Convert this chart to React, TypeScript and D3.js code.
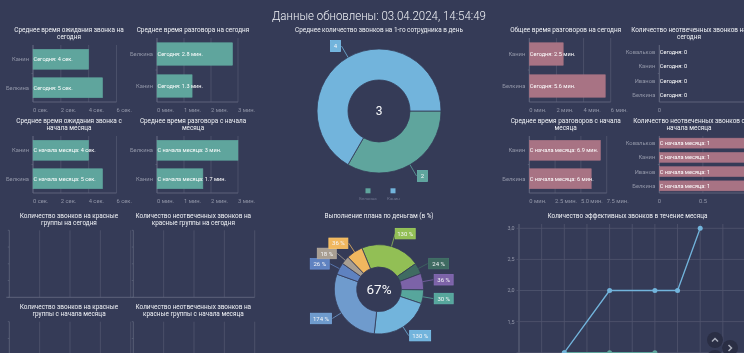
import React from "react";
import * as d3 from "d3";

const BG = "#353b57";
const GREEN = "#5fa59d";
const ROSE = "#a87384";
const BLUE = "#72b4dc";

const headerText = "Данные обновлены: 03.04.2024, 14:54:49";

const waitCats = ["Канин", "Белкина"];
const waitToday = [4, 5];
const waitMonth = [4, 5];
const talkCats = ["Белкина", "Канин"];
const talkToday = [2.8, 1.3];
const talkMonth = [3, 1.7];
const totalCats = ["Канин", "Белкина"];
const totalToday = [2.5, 5.6];
const totalMonth = [6.9, 6];
const missCats = ["Ковальков", "Канин", "Иванов", "Белкина"];
const missToday = [0, 0, 0, 0];
const missMonth = [1, 1, 1, 1];

const donutNames = ["Белкина", "Канин"];
const donutValues = [2, 4];
const donutCenter = "3";

const planValues = [130, 24, 36, 30, 130, 174, 26, 18, 36];
const planColors = ["#92bf55", "#3f6b62", "#7c63a8", "#57a69c", "#72b4dc", "#6f9bcd", "#5f82c0", "#a89e92", "#f0b75f"];
const planCenter = "67%";

const lineDays = [0, 1, 2, 3, 4, 5, 6, 7, 8, 9, 10];
const lineBlue: [number, number][] = [[2, 1], [4, 2], [6, 2], [7, 2], [8, 3]];
const lineGreen: [number, number][] = [[2, 1], [4, 1], [6, 1]];
const lineTicks = [1, 1.5, 2, 2.5, 3];

const FONT = "Roboto, 'Noto Sans', sans-serif";
const GRID = "#50566f";
const AXIS = "#62687f";
const LABEL = "#9296a8";

function Title({ x, y, lines, size = 6.4 }: { x: number; y: number; lines: string[]; size?: number }) {
  return (
    <text x={x} y={y} textAnchor="middle" fontSize={size} fill="#f0f2f6" fontFamily={FONT}>
      {lines.map((l, i) => (
        <tspan key={i} x={x} dy={i === 0 ? 0 : 6.9}>{l}</tspan>
      ))}
    </text>
  );
}

function HBar(props: {
  title: string[]; titleX: number; titleY: number;
  x0: number; x1: number; top: number; bottom: number;
  cats: string[]; values: number[]; domainMax: number; ticks: number[]; tickFmt: (t: number) => string;
  color: string; prefix: string; unit: string; barH: number; tickAnchor?: string;
}) {
  const { x0, x1, top, bottom, cats, values, color, prefix, unit, barH } = props;
  const x = d3.scaleLinear().domain([0, props.domainMax]).range([x0, x1]);
  const y = d3.scaleBand().domain(cats).range([top, bottom]);
  return (
    <g>
      <Title x={props.titleX} y={props.titleY} lines={props.title} />
      {props.ticks.map((t) => (
        <g key={t}>
          <line x1={x(t)} x2={x(t)} y1={top} y2={bottom} stroke={GRID} strokeWidth={0.8} />
          <text x={x(t)} y={bottom + 9.5} textAnchor={props.tickAnchor ?? "start"} fontSize={5.8} fill={LABEL} fontFamily={FONT}>{props.tickFmt(t)}</text>
        </g>
      ))}
      <line x1={x0} x2={x0} y1={top} y2={bottom} stroke={AXIS} strokeWidth={0.9} />
      <line x1={x0} x2={x(props.ticks[props.ticks.length - 1])} y1={bottom} y2={bottom} stroke={AXIS} strokeWidth={0.9} />
      <line x1={x0 - 1.5} x2={x0} y1={(top + bottom) / 2} y2={(top + bottom) / 2} stroke={AXIS} strokeWidth={0.7} />
      {cats.map((c, i) => {
        const cy = (y(c) as number) + y.bandwidth() / 2;
        return (
          <g key={c}>
            <text x={x0 - 4} y={cy + 2} textAnchor="end" fontSize={5.8} fill={LABEL} fontFamily={FONT}>{c}</text>
            <rect x={x0} y={cy - barH / 2} width={x(values[i]) - x0} height={barH} fill={color} stroke={color} strokeWidth={0.5} />
            <text x={x0 + 0.5} y={cy + 2.1} fontSize={5.6} fill="#ffffff" fontFamily={FONT}>{`${prefix}: ${values[i]}${unit}`}</text>
          </g>
        );
      })}
    </g>
  );
}

function EmptyPanel({ title, titleX, titleY, x0, x1, top, bottom }: { title: string[]; titleX: number; titleY: number; x0: number; x1: number; top: number; bottom: number }) {
  const x = d3.scaleLinear().domain([0, 4]).range([x0, x1]);
  const y = d3.scaleLinear().domain([0, 4]).range([top, top + 67]);
  return (
    <g>
      <Title x={titleX} y={titleY} lines={title} />
      {d3.range(0, 5).map((t) => (
        <line key={t} x1={x(t)} x2={x(t)} y1={top} y2={bottom} stroke={t === 0 ? AXIS : GRID} strokeWidth={0.8} />
      ))}
      {d3.range(0, 5).map((t) => (
        <line key={t} x1={x0 - 1.5} x2={x0} y1={y(t)} y2={y(t)} stroke={AXIS} strokeWidth={0.7} />
      ))}
      {bottom < 340 && <line x1={x0 - 3} x2={x1} y1={bottom} y2={bottom} stroke={AXIS} strokeWidth={0.9} />}
    </g>
  );
}

function Donut({ cx, cy, r0, r1, values, colors, start, center, centerSize, labelR, text, boxW, boxH, shift }: any) {
  const pie = d3.pie<number>().sort(null).startAngle(start).endAngle(start + Math.PI * 2);
  const arc = d3.arc<d3.PieArcDatum<number>>().innerRadius(r0).outerRadius(r1);
  const arcs = pie(values);
  return (
    <g transform={`translate(${cx},${cy})`}>
      {arcs.map((a, i) => (
        <path key={i} d={arc(a) as string} fill={colors[i]} stroke={BG} strokeWidth={0.8} />
      ))}
      {arcs.map((a, i) => {
        const m = (a.startAngle + a.endAngle) / 2;
        const s = Math.sin(m), c = Math.cos(m);
        const R = labelR[i];
        const ex = s * R, ey = -c * R;
        const dir = s >= 0 ? 1 : -1;
        const w = boxW[i];
        const bx = ex + dir * (w / 2 + 1) + (shift ? shift[i] : 0);
        return (
          <g key={i}>
            <polyline points={`${s * r1},${-c * r1} ${ex},${ey}`} fill="none" stroke={colors[i]} strokeWidth={0.8} />
            <rect x={bx - w / 2} y={ey - boxH / 2} width={w} height={boxH} fill={colors[i]} stroke={d3.color(colors[i])!.brighter(0.25).toString()} strokeWidth={0.8} />
            <text x={bx} y={ey + 2.1} textAnchor="middle" fontSize={6} fill="#f4f5f8" fontFamily={FONT}>{text(values[i])}</text>
          </g>
        );
      })}
      <text x={0} y={centerSize * 0.36} textAnchor="middle" fontSize={centerSize} fill="#f8f9fb" fontFamily={FONT}>{center}</text>
    </g>
  );
}

function LineChart() {
  const x = d3.scaleLinear().domain([0, 10]).range([519, 745.5]);
  const y = d3.scaleLinear().domain([1, 3]).range([352.7, 228.3]);
  const line = d3.line<[number, number]>().x((d) => x(d[0])).y((d) => y(d[1]));
  return (
    <g>
      <Title x={627.5} y={218} lines={["Количество эффективных звонков в течение месяца"]} size={6.4} />
      {lineDays.map((d) => (
        <line key={d} x1={x(d)} x2={x(d)} y1={224} y2={353} stroke={d === 0 ? AXIS : GRID} strokeWidth={d === 0 ? 1 : 0.8} />
      ))}
      {lineTicks.map((t) => (
        <g key={t}>
          <line x1={516.5} x2={744} y1={y(t)} y2={y(t)} stroke={GRID} strokeWidth={0.8} />
          {t > 1 && <text x={514.5} y={y(t) + 1.9} textAnchor="end" fontSize={5.4} fill={LABEL} fontFamily={FONT}>{d3.format(".1f")(t).replace(".", ",")}</text>}
        </g>
      ))}
      <path d={line(lineGreen) as string} fill="none" stroke={GREEN} strokeWidth={1.3} />
      <path d={line(lineBlue) as string} fill="none" stroke={BLUE} strokeWidth={1.3} />
      {lineGreen.map((d, i) => <circle key={i} cx={x(d[0])} cy={y(d[1])} r={2.5} fill={GREEN} />)}
      {lineBlue.map((d, i) => <circle key={i} cx={x(d[0])} cy={y(d[1])} r={2.5} fill={BLUE} />)}
    </g>
  );
}

function RoundButton({ cx, cy, d }: { cx: number; cy: number; d: string }) {
  return (
    <g>
      <circle cx={cx} cy={cy} r={8} fill="#2a2e44" />
      <path d={d} transform={`translate(${cx},${cy})`} fill="none" stroke="#a9adbb" strokeWidth={1.5} />
    </g>
  );
}

export default function App() {
  const sec = (t: number) => `${t} сек.`;
  const min = (t: number) => `${t} мин.`;
  return (
    <svg width={744} height={353} style={{ position: "fixed", left: 0, top: 0, background: BG }}>
      <defs>
        <filter id="soft" x="0" y="0" width="100%" height="100%" colorInterpolationFilters="sRGB">
          <feGaussianBlur stdDeviation={0.3} />
        </filter>
      </defs>
      <rect width={744} height={353} fill={BG} />
      <g filter="url(#soft)">
        <text x={379} y={19.5} textAnchor="middle" fontSize={12.6} textLength={214} lengthAdjust="spacingAndGlyphs" fill="#f0f2f6" fontFamily={FONT} fontWeight={300}>{headerText}</text>

        <HBar title={["Среднее время ожидания звонка на", "сегодня"]} titleX={69} titleY={32} x0={33} x1={116.5} top={45} bottom={102} cats={waitCats} values={waitToday} domainMax={6} ticks={[0, 2, 4, 6]} tickFmt={sec} color={GREEN} prefix="Сегодня" unit=" сек." barH={20} />
        <HBar title={["Среднее время разговора на сегодня"]} titleX={193} titleY={32} x0={157} x1={238} top={38} bottom={102} cats={talkCats} values={talkToday} domainMax={3} ticks={[0, 1, 2, 3]} tickFmt={min} color={GREEN} prefix="Сегодня" unit=" мин." barH={22.5} />
        <HBar title={["Среднее время ожидания звонка с", "начала месяца"]} titleX={69} titleY={123} x0={33} x1={116.5} top={136} bottom={193} cats={waitCats} values={waitMonth} domainMax={6} ticks={[0, 2, 4, 6]} tickFmt={sec} color={GREEN} prefix="С начала месяца" unit=" сек." barH={20} />
        <HBar title={["Среднее время разговора с начала", "месяца"]} titleX={193} titleY={123} x0={157} x1={238} top={136} bottom={193} cats={talkCats} values={talkMonth} domainMax={3} ticks={[0, 1, 2, 3]} tickFmt={min} color={GREEN} prefix="С начала месяца" unit=" мин." barH={20} />

        <HBar title={["Общее время разговоров на сегодня"]} titleX={565.7} titleY={32} x0={529.3} x1={610.7} top={38} bottom={102} cats={totalCats} values={totalToday} domainMax={6} ticks={[0, 2, 4, 6]} tickFmt={min} color={ROSE} prefix="Сегодня" unit=" мин." barH={22.5} />
        <HBar title={["Среднее время разговоров с начала", "месяца"]} titleX={565.7} titleY={123} x0={529.3} x1={606.7} top={136} bottom={193} cats={totalCats} values={totalMonth} domainMax={7.5} ticks={[0, 2.5, 5, 7.5]} tickFmt={(t) => `${d3.format(t === 0 ? "d" : ".1f")(t)} мин.`} color={ROSE} prefix="С начала месяца" unit=" мин." barH={20} />
        <HBar title={["Количество неотвеченных звонков на", "сегодня"]} titleX={689} titleY={32} x0={659.3} x1={746.5} top={45} bottom={102} cats={missCats} values={missToday} domainMax={1} ticks={[0, 1]} tickFmt={(t) => (t === 0 ? "0" : "")} color={ROSE} prefix="Сегодня" unit="" barH={10} tickAnchor="middle" />
        <HBar title={["Количество неотвеченных звонков с", "начала месяца"]} titleX={689} titleY={123} x0={659.3} x1={746.5} top={136} bottom={193} cats={missCats} values={missMonth} domainMax={1} ticks={[0, 0.5, 1]} tickFmt={(t) => (t === 1 ? "" : String(t))} color={ROSE} prefix="С начала месяца" unit="" barH={10} tickAnchor="middle" />

        <Title x={379} y={32} lines={["Среднее количество звонков на 1-го сотрудника в день"]} />
        <Donut cx={379} cy={111} r0={31} r1={62} values={donutValues} colors={[GREEN, BLUE]} start={Math.PI / 2} center={donutCenter} centerSize={12} labelR={[75, 75]} boxW={[10, 10]} boxH={11} text={(v: number) => String(v)} />
        {donutNames.map((n, i) => (
          <g key={n}>
            <rect x={365.5 + i * 25} y={188.3} width={5} height={5} fill={i === 0 ? GREEN : BLUE} />
            <text x={368 + i * 25.5} y={199.5} textAnchor="middle" fontSize={4.4} fill="#6f7590" fontFamily={FONT}>{n}</text>
          </g>
        ))}

        <EmptyPanel title={["Количество звонков на красные", "группы на сегодня"]} titleX={69} titleY={218} x0={9.3} x1={130.7} top={230.3} bottom={297.3} />
        <EmptyPanel title={["Количество неотвеченных звонков на", "красные группы на сегодня"]} titleX={193.3} titleY={218} x0={133.3} x1={254.7} top={230.3} bottom={297.3} />
        <EmptyPanel title={["Количество звонков на красные", "группы с начала месяца"]} titleX={69} titleY={309} x0={9.3} x1={130.7} top={321.7} bottom={353} />
        <EmptyPanel title={["Количество неотвеченных звонков на", "красные группы с начала месяца"]} titleX={193.3} titleY={309} x0={133.3} x1={254.7} top={321.7} bottom={353} />

        <Title x={379} y={218} lines={["Выполнение плана по деньгам (в %)"]} />
        <Donut cx={379} cy={289.3} r0={22.3} r1={44.7} values={planValues} colors={planColors} start={(-22.5 * Math.PI) / 180} center={planCenter} centerSize={13.5} labelR={[58, 55, 55, 55, 55, 55, 55, 55, 55]} boxW={[20, 20, 19, 19, 21, 21, 19, 19, 19]} boxH={10.5} shift={[-1, 0, 0, 0, 0, 0, 0, 0, 0]} text={(v: number) => `${v} %`} />

        <LineChart />
        <RoundButton cx={715} cy={340} d="M-3,1.5 L0,-1.5 L3,1.5" />
        <RoundButton cx={730} cy={348} d="M-1.5,-3 L1.5,0 L-1.5,3" />
        <RoundButton cx={715} cy={358} d="M-3,-1.5 L0,1.5 L3,-1.5" />
      </g>
    </svg>
  );
}
